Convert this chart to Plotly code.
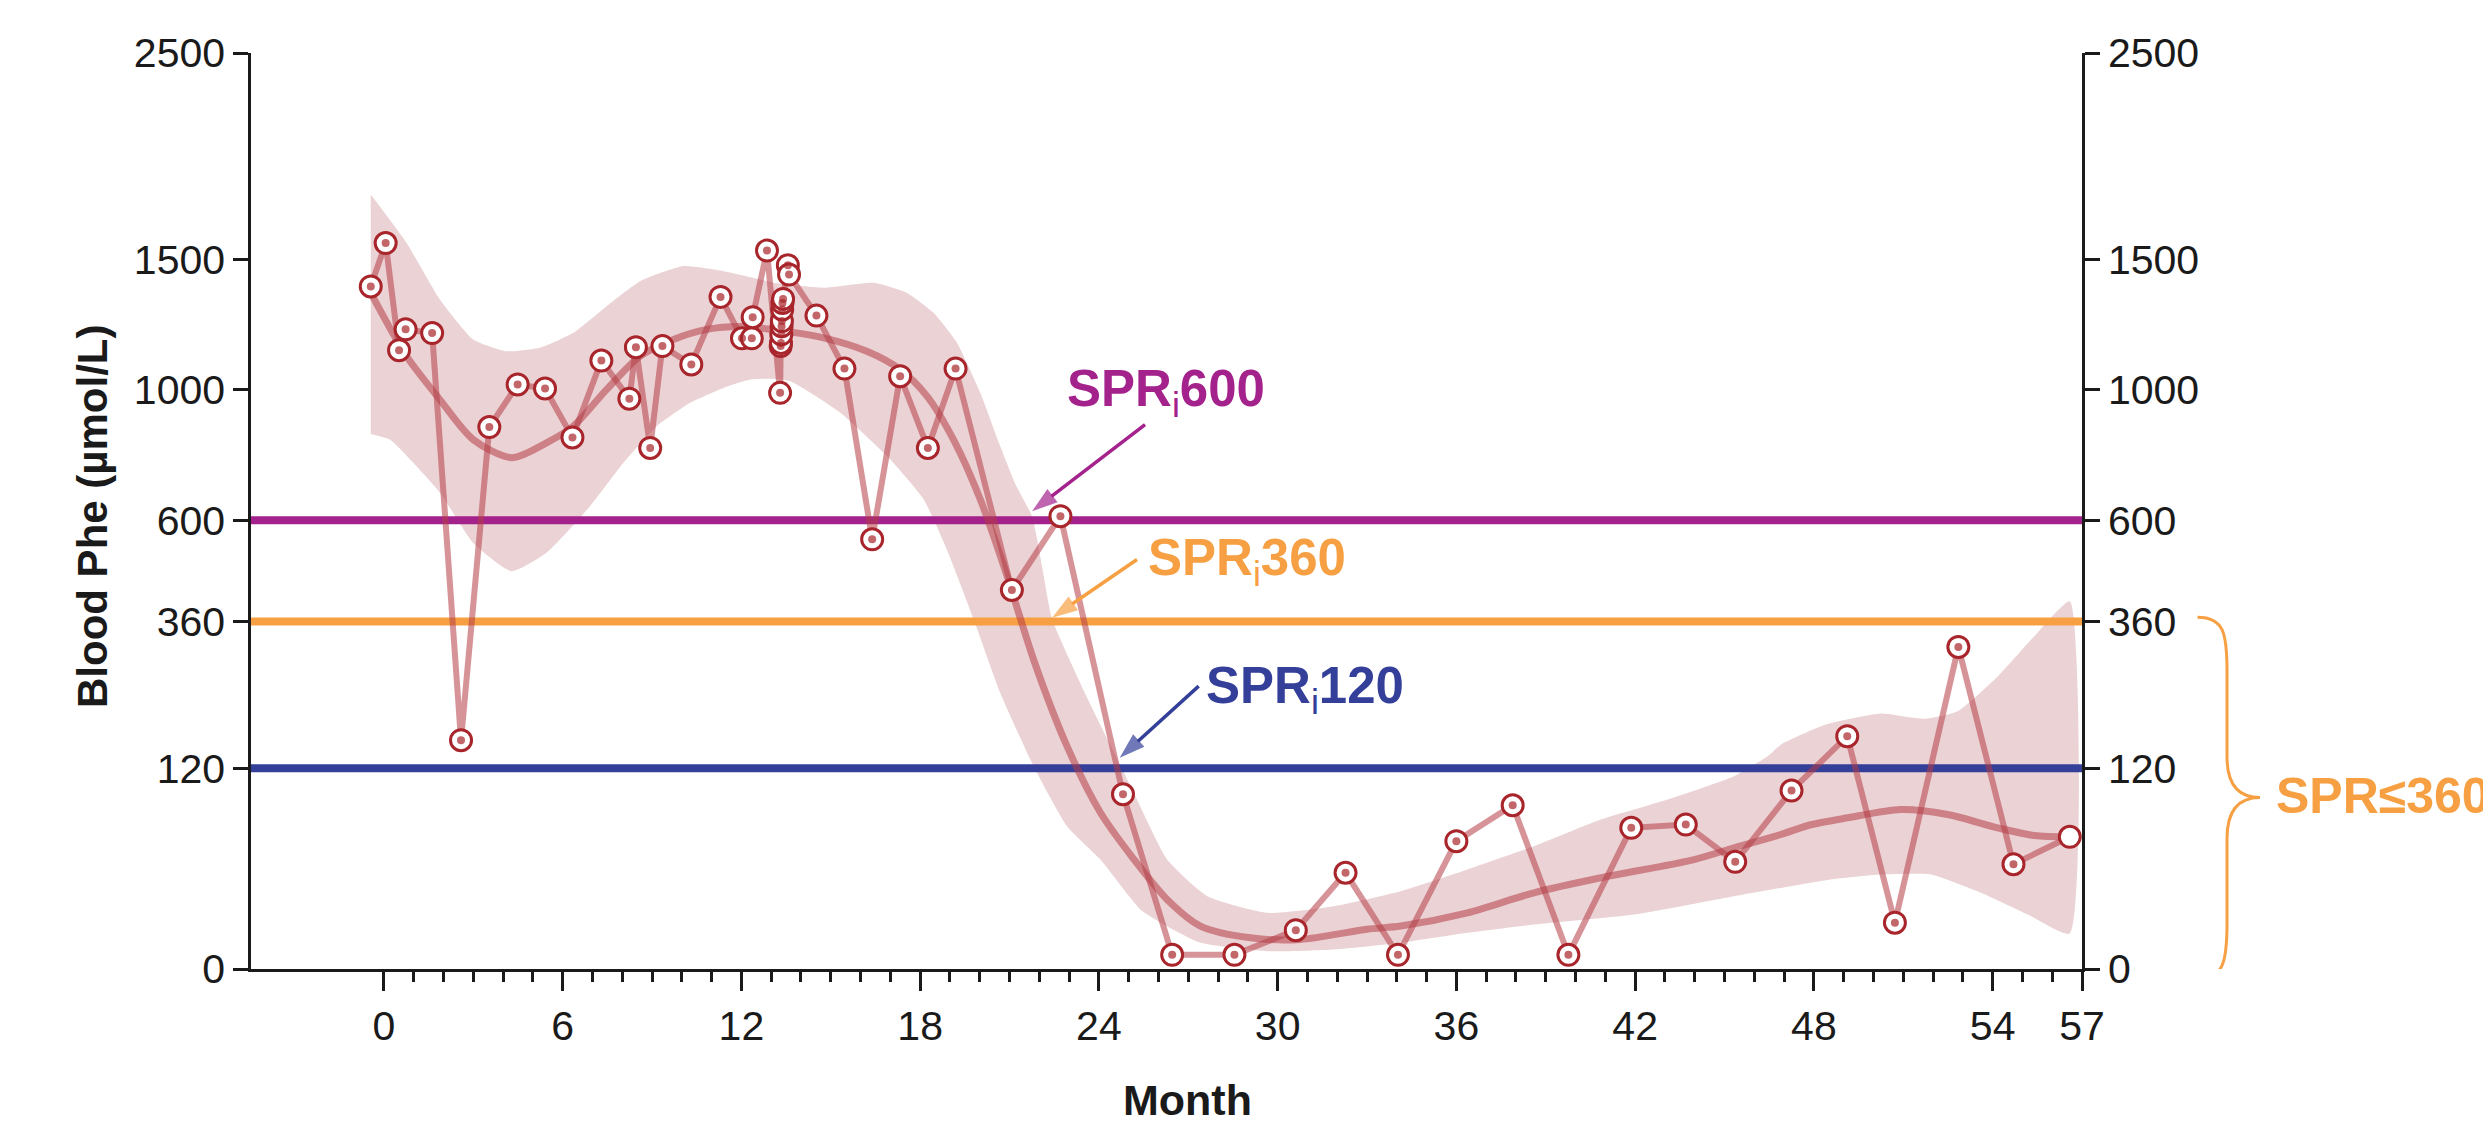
import numpy as np
import plotly.graph_objects as go

# ---- Blood Phe measurements over time ----
month = [-0.44, 0.06, 0.51, 0.73, 1.62, 2.59, 3.54, 4.49, 5.41, 6.33, 7.30, 8.24,
         8.46, 8.94, 9.35, 10.32, 11.30, 12.02, 12.35, 12.38, 12.86, 13.30, 13.32,
         13.33, 13.34, 13.35, 13.36, 13.37, 13.38, 13.40, 13.56, 13.60, 14.52, 15.46,
         16.39, 17.33, 18.26, 19.19, 21.08, 22.71, 24.81, 26.46, 28.55, 30.61, 32.28,
         34.04, 36.00, 37.89, 39.76, 41.87, 43.70, 45.36, 47.25, 49.12, 50.72, 52.85,
         54.70, 56.59]
phe = [1388, 1570, 1141, 1219, 1205, 156, 875, 1018, 1004, 842, 1103, 969,
       1152, 809, 1156, 1089, 1346, 1185, 1185, 1266, 1538, 989, 1156,
       1168, 1200, 1231, 1251, 1296, 1322, 1338, 1476, 1437, 1272, 1074,
       550, 1047, 809, 1074, 428, 611, 91, 0.6, 0.6, 4.5, 27.6,
       0.6, 48.7, 79.9, 0.6, 59.4, 62.2, 34.2, 94.9, 161.5, 6.4, 309,
       32.7, 52.1]

# ---- smoothed trend ----
trend_month = [-0.44, 0.76, 1.88, 3.0, 4.29, 5.46, 6.36, 7.48, 8.6, 9.72, 10.84, 11.96,
               13.08, 14.76, 16.21, 17.33, 18.23, 19.12, 20.02, 20.92, 21.81, 22.93,
               24.05, 25.17, 26.29, 27.41, 29.09, 30.77, 33.0, 34.13, 36.37, 38.6,
               40.85, 43.98, 45.32, 46.89, 47.9, 49.13, 50.92, 52.49, 54.17, 55.4, 56.59]
trend_phe = [1362, 1119, 966, 835, 779, 825, 878, 1001, 1119, 1181, 1219, 1230,
             1218, 1187, 1137, 1071, 978, 835, 657, 460, 285, 148,
             73, 36, 14.4, 5.5, 2.9, 2.6, 4.7, 5.5, 9.4, 17.3,
             24.8, 35.7, 43.8, 53.9, 62, 68.1, 75.8, 71.1, 59.4, 53.1, 52.1]

# ---- confidence band ----
upper_month = [-0.44, 0.76, 1.88, 3.0, 4.12, 5.24, 6.36, 7.48, 8.6, 10.05, 11.4, 12.63,
               13.08, 14.76, 16.44, 17.56, 18.45, 19.24, 20.02, 20.69, 21.2, 21.76,
               22.1, 22.43, 23.55, 24.7, 25.17, 26.29, 27.64, 29.65, 31.89, 34.13,
               36.37, 38.6, 40.85, 43.09, 45.32, 46.45, 46.89, 48.4, 50.25, 51.7,
               52.83, 54.17, 55.4, 56.59]
upper_phe = [1787, 1571, 1336, 1181, 1137, 1150, 1206, 1309, 1409, 1472, 1451, 1417,
             1403, 1383, 1403, 1362, 1283, 1168, 989, 814, 700, 610,
             480, 365, 225, 125, 92.5, 35.7, 15.8, 9.4, 11.75, 18,
             29.5, 44.9, 66.6, 85.6, 110.8, 134.9, 150, 178, 194.5, 186.5,
             198, 255, 330, 403]
lower_month = [-0.44, 0.2, 1.88, 3.0, 4.29, 5.46, 6.92, 8.04, 9.16, 10.28, 11.4, 12.3,
               13.0, 13.64, 15.32, 17.0, 18.12, 18.9, 19.8, 20.69, 21.81, 22.93,
               24.05, 25.4, 26.29, 27.41, 29.65, 31.9, 34.13, 36.37, 38.6, 41.97,
               45.32, 46.89, 48.57, 50.25, 51.93, 53.61, 55.29, 56.59]
lower_phe = [853, 835, 676, 541, 471.5, 516, 638, 763.5, 878, 955, 1006, 1035,
             1038, 1029, 922, 773.5, 657, 524, 364, 227, 122.5, 60.8,
             35.7, 10.5, 5.46, 2.05, 0.94, 1.13, 2.05, 3.9, 5.9, 8.85,
             15.8, 19.6, 23.9, 26.6, 26.6, 17.3, 8.3, 3.75]

# ---- axes ----
y_ticks = [0, 120, 360, 600, 1000, 1500, 2500]
x_major = [0, 6, 12, 18, 24, 30, 36, 42, 48, 54, 57]
x_minor = list(range(0, 58))
x_range = [-4.46, 57]
y_max = 2500

# ---- SPR thresholds ----
thresholds = [600, 360, 120]
threshold_colors = ["#A4228C", "#F7A043", "#333F99"]
SUB_I = '<sub><span style="font-weight:normal">i</span></sub>'
threshold_labels = [f"SPR{SUB_I}600", f"SPR{SUB_I}360", f"SPR{SUB_I}120"]
bracket_label = "SPR≤360"

# square-root scale for the Phe axis
s = np.sqrt

INK = "#1a1a1a"
FONT = "Liberation Sans, Arial, sans-serif"
DARK_RED = "#A8252B"
TRACE_RGBA = "rgba(180,60,70,0.55)"

fig = go.Figure()

# confidence band
band_x = list(upper_month) + list(lower_month[::-1])
band_y = list(s(upper_phe)) + list(s(lower_phe[::-1]))
fig.add_trace(go.Scatter(x=band_x, y=band_y, fill="toself", fillcolor="#EBD3D5",
                         line=dict(width=0, shape="spline", smoothing=0.5),
                         mode="lines", hoverinfo="skip"))

# threshold lines
for val, col in zip(thresholds, threshold_colors):
    fig.add_trace(go.Scatter(x=x_range, y=[s(val), s(val)], mode="lines",
                             line=dict(color=col, width=8), hoverinfo="skip"))

# trend curve
fig.add_trace(go.Scatter(x=trend_month, y=s(trend_phe), mode="lines",
                         line=dict(color=TRACE_RGBA, width=7, shape="spline", smoothing=0.8),
                         hoverinfo="skip"))

# connecting line through measurements
fig.add_trace(go.Scatter(x=month, y=s(phe), mode="lines",
                         line=dict(color=TRACE_RGBA, width=6), hoverinfo="skip"))

# measurement markers: ring + centre dot
fig.add_trace(go.Scatter(x=month, y=s(phe), mode="markers",
                         marker=dict(symbol="circle", size=21, color="white",
                                     line=dict(color=DARK_RED, width=3)),
                         hoverinfo="skip"))
dot_sizes = [8] * (len(month) - 1) + [0]
fig.add_trace(go.Scatter(x=month, y=s(phe), mode="markers",
                         marker=dict(symbol="circle", size=dot_sizes, color=DARK_RED,
                                     line=dict(width=0)),
                         hoverinfo="skip"))

# right-hand axis carrier
fig.add_trace(go.Scatter(x=trend_month, y=s(trend_phe), yaxis="y2", mode="lines",
                         line=dict(width=0), opacity=0, hoverinfo="skip"))

# pointer arrows from each label to where the band meets the threshold
arrow_tip = [(21.76, 24.99), (22.43, 19.17), (24.70, 11.53)]
arrow_tail = [(25.55, 29.72), (25.28, 22.35), (27.35, 15.44)]
for col, (tx, ty), (ax_, ay_) in zip(threshold_colors, arrow_tip, arrow_tail):
    fig.add_trace(go.Scatter(x=[ax_, tx], y=[ay_, ty], mode="lines+markers",
                             line=dict(color=col, width=3.5),
                             marker=dict(symbol=["circle", "arrow"], size=[0, 27],
                                         color=col, angleref="previous",
                                         line=dict(width=0)),
                             hoverinfo="skip"))

# threshold labels
label_pos = [(22.87, 31.47), (25.58, 22.26), (27.52, 15.26)]
annotations = []
for txt, col, (lx, ly) in zip(threshold_labels, threshold_colors, label_pos):
    annotations.append(dict(x=lx, y=ly, xref="x", yref="y", text=txt, showarrow=False,
                            xanchor="left", yanchor="middle",
                            font=dict(family=FONT, size=51, color=col, weight="bold")))

# bracket label on the right
annotations.append(dict(x=1.1049, y=9.42, xref="paper", yref="y", text=bracket_label,
                        showarrow=False, xanchor="left", yanchor="middle",
                        font=dict(family=FONT, size=50, color="#F7A043", weight="bold")))

# axis titles
annotations.append(dict(x=0.5117, y=-0.1425, xref="paper", yref="paper", text="Month",
                        showarrow=False, xanchor="center", yanchor="middle",
                        font=dict(family=FONT, size=43, color=INK, weight="bold")))
annotations.append(dict(x=-0.0866, y=0.495, xref="paper", yref="paper",
                        text="Blood Phe (µmol/L)", textangle=-90, showarrow=False,
                        xanchor="center", yanchor="middle",
                        font=dict(family=FONT, size=42, color=INK, weight="bold")))

# curly brace spanning 0–360
x0, x1, x2 = 1.0631, 1.0792, 1.0972
yt, ym, yb = 19.2, 9.36, -0.56
brace = (f"M {x0},{yt} C {x0 + (x1 - x0) * 0.9},{yt} {x1},18.3 {x1},16.24 "
         f"L {x1},11.57 C {x1},10.2 {x1 + (x2 - x1) * 0.3},{ym} {x2},{ym} "
         f"C {x1 + (x2 - x1) * 0.3},{ym} {x1},8.5 {x1},7.12 "
         f"L {x1},2.48 C {x1},0.5 {x0 + (x1 - x0) * 0.9},{yb} {x0},{yb}")
shapes = [dict(type="path", path=brace, xref="paper", yref="y",
               line=dict(color="#F7A043", width=3))]

tick_font = dict(family=FONT, size=41, color=INK)
yaxis_common = dict(range=[0, s(y_max)], tickmode="array", tickvals=list(s(y_ticks)),
                    ticktext=[str(v) for v in y_ticks], ticks="outside", ticklen=15,
                    tickwidth=2.5, tickcolor=INK, showline=True, linewidth=2.5,
                    linecolor=INK, showgrid=False, zeroline=False, tickfont=tick_font)

fig.update_layout(
    width=2483, height=1131,
    margin=dict(l=251, r=401, t=53, b=162),
    paper_bgcolor="white", plot_bgcolor="white",
    showlegend=False,
    xaxis=dict(range=x_range, tickmode="array", tickvals=x_major,
               ticktext=[str(v) for v in x_major], ticks="outside", ticklen=19,
               tickwidth=2.5, tickcolor=INK, showline=True, linewidth=2.5, linecolor=INK,
               showgrid=False, zeroline=False, tickfont=tick_font,
               minor=dict(tickmode="array", tickvals=x_minor, ticks="outside", ticklen=10,
                          tickwidth=2.5, tickcolor=INK, showgrid=False)),
    yaxis=dict(**yaxis_common),
    yaxis2=dict(overlaying="y", side="right", **yaxis_common),
    annotations=annotations,
    shapes=shapes,
)

fig.write_html("out.html")
